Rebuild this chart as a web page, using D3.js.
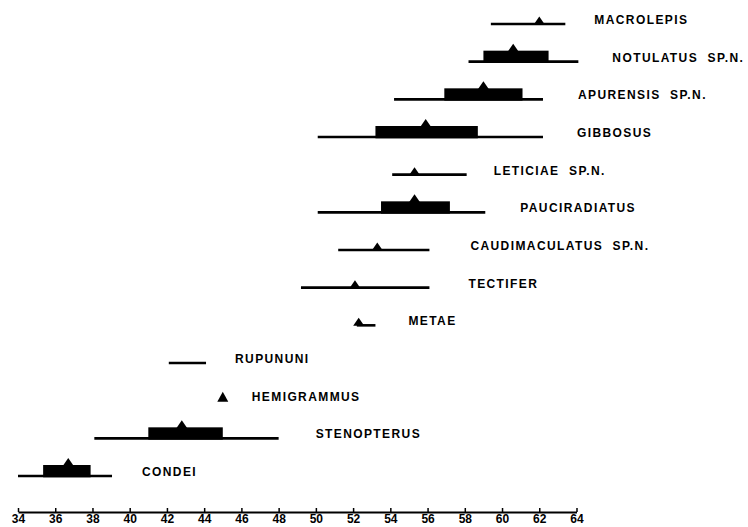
<!DOCTYPE html>
<html>
<head>
<meta charset="utf-8">
<script src="https://cdn.jsdelivr.net/npm/d3@7"></script>
<style>
  html, body { margin: 0; padding: 0; background: #fff; }
  svg { display: block; }
  .lbl { font-family: "Liberation Sans", Arial, sans-serif; font-weight: bold; font-size: 12px; letter-spacing: 1.4px; fill: #000; }
  .axis text { font-family: "Liberation Sans", Arial, sans-serif; font-weight: bold; font-size: 12px; fill: #000; }
</style>
</head>
<body>
<script>
// ---------------- DATA ----------------
const species = ["MACROLEPIS", "NOTULATUS  SP.N.", "APURENSIS  SP.N.", "GIBBOSUS", "LETICIAE  SP.N.",
  "PAUCIRADIATUS", "CAUDIMACULATUS  SP.N.", "TECTIFER", "METAE", "RUPUNUNI", "HEMIGRAMMUS",
  "STENOPTERUS", "CONDEI"];
const rangeMin = [59.4, 58.2, 54.2, 50.1, 54.1, 50.1, 51.2, 49.2, 52.2, 42.1, null, 38.1, 34.0];
const rangeMax = [63.4, 64.1, 62.2, 62.2, 58.1, 59.1, 56.1, 56.1, 53.2, 44.1, null, 48.0, 39.05];
const barMin   = [null, 59.0, 56.9, 53.2, null, 53.5, null, null, null, null, null, 41.0, 35.35];
const barMax   = [null, 62.5, 61.1, 58.7, null, 57.2, null, null, null, null, null, 45.0, 37.9];
const means    = [62.0, 60.6, 59.0, 55.9, 55.3, 55.3, 53.3, 52.1, 52.3, null, 45.0, 42.8, 36.7];
const tickValues = [34, 36, 38, 40, 42, 44, 46, 48, 50, 52, 54, 56, 58, 60, 62, 64];

// ---------------- LAYOUT ----------------
const W = 748, H = 527;
const labelGap = [29, 34, 35, 34, 27, 35, 41, 39, 33, 29, 29, 37, 30];
const barH = 11, triW = 11, triH = 8, lineW = 2.6;

const x = d3.scaleLinear().domain([34, 64]).range([18, 576.5]);
const y = d3.scalePoint().domain(species).range([24, 476]);

const svg = d3.select("body").append("svg").attr("width", W).attr("height", H);

const rows = species.map((s, i) => ({
  name: s, rmin: rangeMin[i], rmax: rangeMax[i], bmin: barMin[i], bmax: barMax[i], mean: means[i], gap: labelGap[i]
}));

const g = svg.append("g");

// range lines
g.selectAll("line.range").data(rows.filter(d => d.rmin != null)).join("line")
  .attr("class", "range")
  .attr("x1", d => x(d.rmin)).attr("x2", d => x(d.rmax))
  .attr("y1", d => y(d.name)).attr("y2", d => y(d.name))
  .attr("stroke", "#000").attr("stroke-width", lineW);

// bars
g.selectAll("rect.bar").data(rows.filter(d => d.bmin != null)).join("rect")
  .attr("class", "bar")
  .attr("x", d => x(d.bmin)).attr("width", d => x(d.bmax) - x(d.bmin))
  .attr("y", d => y(d.name) - barH).attr("height", barH + lineW / 2)
  .attr("fill", "#000");

// mean triangles
g.selectAll("path.mean").data(rows.filter(d => d.mean != null)).join("path")
  .attr("class", "mean")
  .attr("d", d => {
    const base = y(d.name) - (d.bmin != null ? barH - 0.5 : 0) + (d.rmin == null ? 1 : 0.5);
    const cx = x(d.mean);
    const h = d.rmin == null ? triH + 2 : triH;
    return `M${cx - triW / 2},${base} L${cx},${base - h} L${cx + triW / 2},${base} Z`;
  })
  .attr("fill", "#000");

// labels
g.selectAll("text.lbl").data(rows).join("text")
  .attr("class", "lbl")
  .attr("x", d => (d.rmax != null ? x(d.rmax) : x(d.mean)) + d.gap)
  .attr("y", d => y(d.name))
  .attr("xml:space", "preserve")
  .style("white-space", "pre")
  .text(d => d.name);

// axis
const axis = d3.axisBottom(x).tickValues(tickValues).tickFormat(d3.format("d"))
  .tickSize(-4).tickSizeOuter(0).tickPadding(2);
const ax = svg.append("g").attr("class", "axis").attr("transform", "translate(0,512)").call(axis);
ax.select(".domain").attr("stroke", "#000").attr("stroke-width", 2);
ax.selectAll(".tick line").attr("stroke", "#000").attr("stroke-width", 1.5);
</script>
</body>
</html>
